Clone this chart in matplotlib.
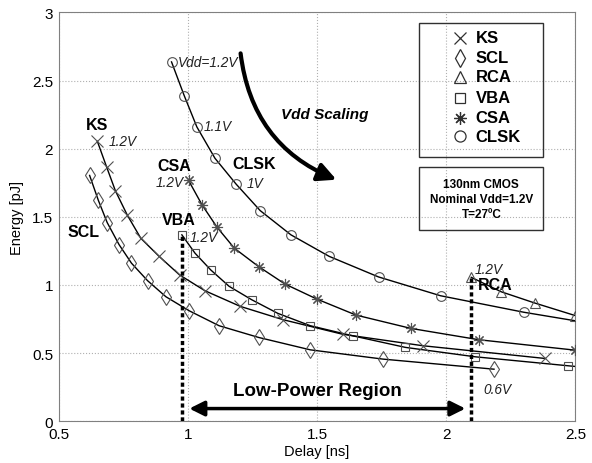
import matplotlib
matplotlib.use("Agg")
import matplotlib.pyplot as plt
from matplotlib.patches import FancyArrowPatch, Rectangle
from matplotlib.ticker import FuncFormatter

plt.rcParams['font.family'] = ['Liberation Sans', 'DejaVu Sans']

# Energy vs delay (Vdd from 1.2V downwards)
ks_x = [0.650, 0.686, 0.720, 0.766, 0.818, 0.889, 0.968, 1.066, 1.203, 1.369, 1.600, 1.910, 2.381]
ks_y = [2.054, 1.865, 1.690, 1.512, 1.343, 1.210, 1.074, 0.958, 0.843, 0.745, 0.638, 0.554, 0.461]

scl_x = [0.620, 0.654, 0.688, 0.734, 0.782, 0.844, 0.915, 1.005, 1.121, 1.274, 1.474, 1.755, 2.185]
scl_y = [1.804, 1.620, 1.458, 1.296, 1.160, 1.032, 0.914, 0.811, 0.701, 0.615, 0.524, 0.456, 0.382]

rca_x = [2.097, 2.213, 2.342, 2.500]
rca_y = [1.056, 0.950, 0.868, 0.775]

vba_x = [0.977, 1.028, 1.089, 1.160, 1.247, 1.348, 1.474, 1.638, 1.842, 2.112, 2.472, 2.500]
vba_y = [1.368, 1.233, 1.110, 0.990, 0.892, 0.792, 0.701, 0.627, 0.542, 0.473, 0.407, 0.402]

csa_x = [1.003, 1.055, 1.113, 1.180, 1.274, 1.376, 1.499, 1.651, 1.864, 2.127, 2.497]
csa_y = [1.767, 1.588, 1.424, 1.270, 1.135, 1.007, 0.897, 0.779, 0.681, 0.598, 0.522]

clsk_x = [0.937, 0.986, 1.035, 1.105, 1.187, 1.280, 1.399, 1.547, 1.738, 1.978, 2.300, 2.500]
clsk_y = [2.637, 2.390, 2.160, 1.930, 1.740, 1.546, 1.368, 1.210, 1.059, 0.921, 0.800, 0.737]

names = ['KS', 'SCL', 'RCA', 'VBA', 'CSA', 'CLSK']
xs = [ks_x, scl_x, rca_x, vba_x, csa_x, clsk_x]
ys = [ks_y, scl_y, rca_y, vba_y, csa_y, clsk_y]
# last value of VBA / CLSK is where the line leaves the axes, no marker there
nmark = [13, 13, 4, 11, 11, 11]
markers = ['x', 'd', '^', 's', (8, 2, 0), 'o']
msizes = [8, 8, 7, 6, 8, 7]

mcol = '#505050'

fig = plt.figure(figsize=(5.92, 4.64), dpi=100)
ax = fig.add_axes([0.099, 0.090, 0.873, 0.881])

for x, y, n, m, ms in zip(xs, ys, nmark, markers, msizes):
    ax.plot(x, y, '-', color='black', lw=1.0, zorder=3)
    ax.plot(x[:n], y[:n], linestyle='none', marker=m, ms=ms, mfc='none',
            mec=mcol, mew=0.8, zorder=4)

ax.set_xlim(0.5, 2.5)
ax.set_ylim(0, 3)
ax.set_xticks([0.5, 1, 1.5, 2, 2.5])
ax.set_yticks([0, 0.5, 1, 1.5, 2, 2.5, 3])
fmt = FuncFormatter(lambda v, p: '%g' % v)
ax.xaxis.set_major_formatter(fmt)
ax.yaxis.set_major_formatter(fmt)
ax.tick_params(length=0, labelsize=11, pad=4)
ax.grid(True, linestyle=':', color='#b0b0b0', lw=0.8)
for s in ax.spines.values():
    s.set_color('#808080')
ax.set_xlabel('Delay [ns]', fontsize=10.5, labelpad=2)
ax.set_ylabel('Energy [pJ]', fontsize=10.5, labelpad=6)

# series labels
bold = dict(fontsize=11.5, fontweight='bold', ha='center', va='center')
ax.text(0.650, 2.18, 'KS', **bold)
ax.text(0.597, 1.39, 'SCL', **bold)
ax.text(0.947, 1.877, 'CSA', **bold)
ax.text(1.255, 1.89, 'CLSK', **bold)
ax.text(0.965, 1.48, 'VBA', **bold)
ax.text(2.19, 1.00, 'RCA', **bold)

ital = dict(fontsize=9.8, fontstyle='italic', va='center', color='#202020')
ax.text(0.960, 2.637, 'Vdd=1.2V', ha='left', **ital)
ax.text(1.060, 2.165, '1.1V', ha='left', **ital)
ax.text(1.228, 1.745, '1V', ha='left', **ital)
ax.text(0.694, 2.060, '1.2V', ha='left', **ital)
ax.text(0.985, 1.757, '1.2V', ha='right', **ital)
ax.text(1.006, 1.352, '1.2V', ha='left', **ital)
ax.text(2.110, 1.118, '1.2V', ha='left', **ital)
ax.text(2.145, 0.240, '0.6V', ha='left', **ital)

# Vdd scaling arrow
ax.add_patch(FancyArrowPatch((1.203, 2.72), (1.585, 1.765),
                             connectionstyle='arc3,rad=0.3',
                             arrowstyle='-|>,head_length=11,head_width=5.5',
                             lw=3, color='black', zorder=5))
ax.text(1.36, 2.257, 'Vdd Scaling', fontsize=11, fontweight='bold',
        fontstyle='italic', va='center', ha='left')

# low-power region
ax.plot([vba_x[0], vba_x[0]], [0, vba_y[0]], color='black', lw=2.5,
        linestyle=(0, (1.2, 0.8)), zorder=5)
ax.plot([rca_x[0], rca_x[0]], [0, rca_y[0]], color='black', lw=2.5,
        linestyle=(0, (1.2, 0.8)), zorder=5)
ax.add_patch(FancyArrowPatch((0.995, 0.093), (2.085, 0.093),
                             arrowstyle='<|-|>,head_length=9,head_width=4.5',
                             lw=2.5, color='black', zorder=5))
ax.text(1.50, 0.225, 'Low-Power Region', fontsize=13.5, fontweight='bold',
        ha='center', va='center')

# legend box
ax.add_patch(Rectangle((1.895, 1.94), 0.481, 0.98, fill=False,
                       ec='#303030', lw=1.0, zorder=6))
leg_y = [2.814, 2.669, 2.527, 2.375, 2.228, 2.090]
for name, m, ms, ly in zip(names, markers, msizes, leg_y):
    ax.plot([2.055], [ly], linestyle='none', marker=m, ms=ms + 1, mfc='none',
            mec='#303030', mew=0.9, zorder=6)
    ax.text(2.114, ly, name, fontsize=12, fontweight='bold', va='center',
            ha='left', zorder=6)

# info box
ax.add_patch(Rectangle((1.895, 1.40), 0.481, 0.465, fill=False,
                       ec='#303030', lw=1.0, zorder=6))
ax.text(2.136, 1.632, '130nm CMOS\nNominal Vdd=1.2V\nT=27ºC', fontsize=8.5,
        fontweight='bold', ha='center', va='center', linespacing=1.3,
        zorder=6)

fig.savefig('out.png', dpi=100)
